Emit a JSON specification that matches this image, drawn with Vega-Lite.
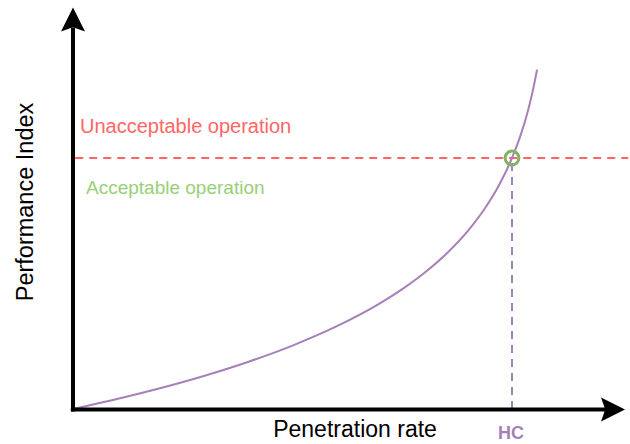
{
  "$schema": "https://vega.github.io/schema/vega-lite/v6.json",
  "width": 630,
  "height": 444,
  "autosize": {"type": "none"},
  "padding": 0,
  "background": "white",
  "view": {"stroke": null},
  "config": {"font": "Liberation Sans"},
  "layer": [
    {
      "data": {"values": [{"x": 0.005, "x2": 1.265, "y": 1}]},
      "mark": {"type": "rule", "color": "#FF6666", "strokeWidth": 2, "strokeDash": [8, 6]},
      "encoding": {
        "x": {"field": "x", "type": "quantitative", "scale": {"domain": [-0.16629, 1.26879], "nice": false, "zero": false}, "axis": null},
        "x2": {"field": "x2"},
        "y": {"field": "y", "type": "quantitative", "scale": {"domain": [-0.13944, 1.62948], "nice": false, "zero": false}, "axis": null}
      }
    },
    {
      "data": {"values": [{"x": 1, "y": 0, "y2": 1}]},
      "mark": {"type": "rule", "color": "#A680B8", "strokeWidth": 2, "strokeDash": [8, 6]},
      "encoding": {
        "x": {"field": "x", "type": "quantitative"},
        "y": {"field": "y", "type": "quantitative"},
        "y2": {"field": "y2"}
      }
    },
    {
      "data": {"values": [
        {"x": 0, "y": 0},
        {"x": 0.1, "y": 0.0397},
        {"x": 0.2, "y": 0.0837},
        {"x": 0.3, "y": 0.1328},
        {"x": 0.4, "y": 0.1885},
        {"x": 0.5, "y": 0.2527},
        {"x": 0.6, "y": 0.3288},
        {"x": 0.7, "y": 0.4218},
        {"x": 0.75, "y": 0.4775},
        {"x": 0.8, "y": 0.5418},
        {"x": 0.85, "y": 0.6178},
        {"x": 0.9, "y": 0.7109},
        {"x": 0.94, "y": 0.8039},
        {"x": 0.97, "y": 0.8905},
        {"x": 1.0, "y": 1.0},
        {"x": 1.02, "y": 1.093},
        {"x": 1.035, "y": 1.1796},
        {"x": 1.047, "y": 1.2647},
        {"x": 1.057, "y": 1.3519}
      ]},
      "mark": {"type": "line", "color": "#A680B8", "strokeWidth": 2, "interpolate": "monotone"},
      "encoding": {
        "x": {"field": "x", "type": "quantitative"},
        "y": {"field": "y", "type": "quantitative"}
      }
    },
    {
      "data": {"values": [{"x": 1, "y": 1}]},
      "mark": {"type": "point", "shape": "circle", "filled": false, "color": "#82B366", "strokeWidth": 3, "size": 190, "opacity": 1},
      "encoding": {
        "x": {"field": "x", "type": "quantitative"},
        "y": {"field": "y", "type": "quantitative"}
      }
    },
    {
      "data": {"values": [{"x": 0, "y": -0.01, "y2": 1.52}]},
      "mark": {"type": "rule", "color": "black", "strokeWidth": 4},
      "encoding": {
        "x": {"field": "x", "type": "quantitative"},
        "y": {"field": "y", "type": "quantitative"},
        "y2": {"field": "y2"}
      }
    },
    {
      "data": {"values": [{"x": -0.005, "x2": 1.215, "y": -0.002}]},
      "mark": {"type": "rule", "color": "black", "strokeWidth": 4},
      "encoding": {
        "x": {"field": "x", "type": "quantitative"},
        "x2": {"field": "x2"},
        "y": {"field": "y", "type": "quantitative"}
      }
    },
    {
      "data": {"values": [{"x": 0, "y": 1.552}]},
      "mark": {"type": "point", "shape": "M0,-1L1,1L0,0.65L-1,1Z", "filled": true, "color": "black", "size": 576, "opacity": 1, "strokeWidth": 0},
      "encoding": {
        "x": {"field": "x", "type": "quantitative"},
        "y": {"field": "y", "type": "quantitative"}
      }
    },
    {
      "data": {"values": [{"x": 1.2301, "y": -0.002}]},
      "mark": {"type": "point", "shape": "M1,0L-1,1L-0.65,0L-1,-1Z", "filled": true, "color": "black", "size": 576, "opacity": 1, "strokeWidth": 0},
      "encoding": {
        "x": {"field": "x", "type": "quantitative"},
        "y": {"field": "y", "type": "quantitative"}
      }
    },
    {
      "data": {"values": [{"x": 0.0159, "y": 1.0996, "label": "Unacceptable operation"}]},
      "mark": {"type": "text", "color": "#FF6666", "fontSize": 20, "align": "left", "baseline": "alphabetic"},
      "encoding": {
        "x": {"field": "x", "type": "quantitative"},
        "y": {"field": "y", "type": "quantitative"},
        "text": {"field": "label"}
      }
    },
    {
      "data": {"values": [{"x": 0.0296, "y": 0.8566, "label": "Acceptable operation"}]},
      "mark": {"type": "text", "color": "#97D077", "fontSize": 19, "align": "left", "baseline": "alphabetic"},
      "encoding": {
        "x": {"field": "x", "type": "quantitative"},
        "y": {"field": "y", "type": "quantitative"},
        "text": {"field": "label"}
      }
    },
    {
      "data": {"values": [{"x": 0.6424, "y": -0.1116, "label": "Penetration rate"}]},
      "mark": {"type": "text", "color": "black", "fontSize": 23, "align": "center", "baseline": "alphabetic"},
      "encoding": {
        "x": {"field": "x", "type": "quantitative"},
        "y": {"field": "y", "type": "quantitative"},
        "text": {"field": "label"}
      }
    },
    {
      "data": {"values": [{"x": -0.0911, "y": 0.8247, "label": "Performance Index"}]},
      "mark": {"type": "text", "color": "black", "fontSize": 23.5, "align": "center", "baseline": "alphabetic", "angle": 270},
      "encoding": {
        "x": {"field": "x", "type": "quantitative"},
        "y": {"field": "y", "type": "quantitative"},
        "text": {"field": "label"}
      }
    },
    {
      "data": {"values": [{"x": 0.9977, "y": -0.1195, "label": "HC"}]},
      "mark": {"type": "text", "color": "#A680B8", "fontSize": 18, "fontWeight": "bold", "align": "center", "baseline": "alphabetic"},
      "encoding": {
        "x": {"field": "x", "type": "quantitative"},
        "y": {"field": "y", "type": "quantitative"},
        "text": {"field": "label"}
      }
    }
  ]
}
